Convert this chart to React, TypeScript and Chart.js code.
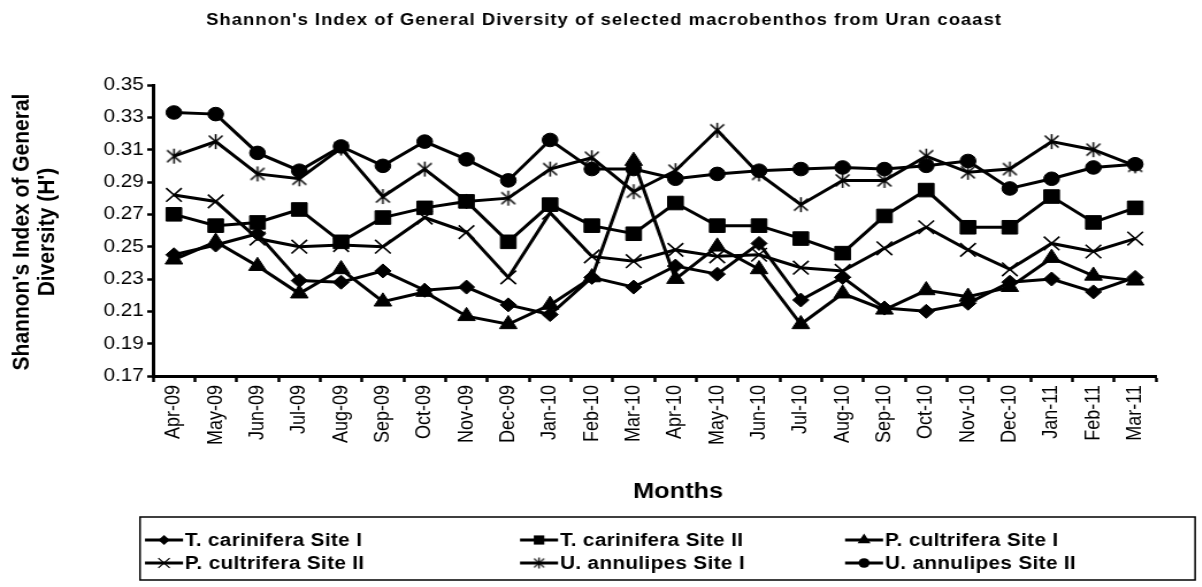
import React, { useEffect, useRef } from 'react';
import { Chart, registerables } from 'chart.js';

Chart.register(...registerables);

const categories = [
  'Apr-09', 'May-09', 'Jun-09', 'Jul-09', 'Aug-09', 'Sep-09', 'Oct-09', 'Nov-09',
  'Dec-09', 'Jan-10', 'Feb-10', 'Mar-10', 'Apr-10', 'May-10', 'Jun-10', 'Jul-10',
  'Aug-10', 'Sep-10', 'Oct-10', 'Nov-10', 'Dec-10', 'Jan-11', 'Feb-11', 'Mar-11',
];

const tCariniferaSite1 = [0.245, 0.251, 0.258, 0.229, 0.228, 0.235, 0.223, 0.225, 0.214, 0.208, 0.231, 0.225, 0.238, 0.233, 0.252, 0.217, 0.231, 0.212, 0.210, 0.215, 0.228, 0.230, 0.222, 0.231];
const tCariniferaSite2 = [0.270, 0.263, 0.265, 0.273, 0.253, 0.268, 0.274, 0.278, 0.253, 0.276, 0.263, 0.258, 0.277, 0.263, 0.263, 0.255, 0.246, 0.269, 0.285, 0.262, 0.262, 0.281, 0.265, 0.274];
const pCultriferaSite1 = [0.242, 0.253, 0.238, 0.221, 0.236, 0.216, 0.222, 0.207, 0.202, 0.214, 0.231, 0.303, 0.230, 0.250, 0.236, 0.202, 0.221, 0.211, 0.223, 0.219, 0.225, 0.243, 0.232, 0.229];
const pCultriferaSite2 = [0.282, 0.278, 0.255, 0.250, 0.251, 0.250, 0.268, 0.259, 0.231, 0.271, 0.244, 0.241, 0.248, 0.244, 0.245, 0.237, 0.235, 0.249, 0.262, 0.248, 0.236, 0.252, 0.247, 0.255];
const uAnnulipesSite1 = [0.306, 0.315, 0.295, 0.292, 0.311, 0.281, 0.298, 0.278, 0.280, 0.298, 0.305, 0.284, 0.297, 0.322, 0.295, 0.276, 0.291, 0.291, 0.306, 0.296, 0.298, 0.315, 0.310, 0.300];
const uAnnulipesSite2 = [0.333, 0.332, 0.308, 0.297, 0.312, 0.300, 0.315, 0.304, 0.291, 0.316, 0.298, 0.298, 0.292, 0.295, 0.297, 0.298, 0.299, 0.298, 0.300, 0.303, 0.286, 0.292, 0.299, 0.301];

const seriesNames = [
  'T. carinifera Site I',
  'T. carinifera Site II',
  'P. cultrifera Site I',
  'P. cultrifera Site II',
  'U. annulipes Site I',
  'U. annulipes Site II',
];

const Y_MIN = 0.17;
const Y_MAX = 0.35;
const Y_STEP = 0.02;

const TITLE = "Shannon's Index of General Diversity of selected macrobenthos from Uran coaast";
const Y_TITLE = ["Shannon's Index of General", "Diversity (H')"];
const X_TITLE = 'Months';

const FONT = "Arial, 'Liberation Sans', sans-serif";
const SX = 1.15; // horizontal stretch of the picture
const W = 1046;
const H = 587;
const AREA_LEFT = 153 / SX;
const AREA_RIGHT = 1156 / SX;
const AREA_TOP = 85;
const AREA_BOTTOM = 376;

function makeStar(size: number, lw: number) {
  const c = document.createElement('canvas');
  c.width = size;
  c.height = size;
  const g = c.getContext('2d')!;
  g.strokeStyle = '#000';
  g.lineWidth = lw;
  const m = size / 2;
  const r = size / 2 - 1;
  const d = r * 0.8;
  g.beginPath();
  g.moveTo(m, m - r);
  g.lineTo(m, m + r);
  g.moveTo(m - d, m - d);
  g.lineTo(m + d, m + d);
  g.moveTo(m + d, m - d);
  g.lineTo(m - d, m + d);
  g.stroke();
  return c;
}

function drawMarker(ctx: CanvasRenderingContext2D, style: any, x: number, y: number, r: number) {
  ctx.save();
  ctx.fillStyle = '#000';
  ctx.strokeStyle = '#000';
  ctx.lineWidth = 1.2;
  ctx.beginPath();
  if (style === 'rectRot') {
    ctx.moveTo(x, y - r); ctx.lineTo(x + r, y); ctx.lineTo(x, y + r); ctx.lineTo(x - r, y); ctx.closePath(); ctx.fill();
  } else if (style === 'rect') {
    const s = r * Math.SQRT1_2;
    ctx.rect(x - s, y - s, 2 * s, 2 * s); ctx.fill();
  } else if (style === 'triangle') {
    ctx.moveTo(x, y - r);
    ctx.lineTo(x + r * Math.sin(2 * Math.PI / 3), y - r * Math.cos(2 * Math.PI / 3));
    ctx.lineTo(x + r * Math.sin(4 * Math.PI / 3), y - r * Math.cos(4 * Math.PI / 3));
    ctx.closePath(); ctx.fill();
  } else if (style === 'crossRot') {
    const d = r * Math.SQRT1_2;
    ctx.moveTo(x - d, y - d); ctx.lineTo(x + d, y + d);
    ctx.moveTo(x + d, y - d); ctx.lineTo(x - d, y + d);
    ctx.stroke();
  } else if (style === 'circle') {
    ctx.arc(x, y, r, 0, Math.PI * 2); ctx.fill();
  } else if (style instanceof HTMLCanvasElement) {
    ctx.drawImage(style, x - r, y - r, 2 * r, 2 * r);
  }
  ctx.restore();
}

export default function App() {
  const ref = useRef<HTMLCanvasElement | null>(null);

  useEffect(() => {
    if (!ref.current) return;
    const star = makeStar(17, 1.5);
    const starSmall = makeStar(13, 1.3);

    const styles: any[] = ['rectRot', 'rect', 'triangle', 'crossRot', star, 'circle'];
    const radii = [7, 9.6, 8.8, 9.6, 8, 6.8];
    const borderW = [1, 1, 1, 1.6, 1, 1];
    const legendStyles: any[] = ['rectRot', 'rect', 'triangle', 'crossRot', starSmall, 'circle'];
    const legendRadii = [5, 6.5, 6.5, 7, 6.5, 4.8];
    const allData = [tCariniferaSite1, tCariniferaSite2, pCultriferaSite1, pCultriferaSite2, uAnnulipesSite1, uAnnulipesSite2];

    const datasets = allData.map((d, i) => ({
      label: seriesNames[i],
      data: d,
      borderColor: '#000',
      backgroundColor: '#000',
      borderWidth: 3,
      pointStyle: styles[i],
      pointRadius: radii[i],
      pointBorderWidth: borderW[i],
      pointBackgroundColor: '#000',
      pointBorderColor: '#000',
      tension: 0,
      fill: false,
    }));

    const decor = {
      id: 'decor',
      afterDraw(chart: any) {
        const ctx: CanvasRenderingContext2D = chart.ctx;
        ctx.save();
        ctx.fillStyle = '#000';
        ctx.textAlign = 'center';
        ctx.textBaseline = 'middle';
        // main title
        ctx.font = `bold 16px ${FONT}`;
        (ctx as any).letterSpacing = '0.9px';
        ctx.fillText(TITLE, 604 / SX, 21);
        (ctx as any).letterSpacing = '0px';
        // y title
        ctx.font = `bold 21px ${FONT}`;
        const yx = [22 / SX, 47 / SX];
        Y_TITLE.forEach((t, i) => {
          ctx.save();
          ctx.translate(yx[i], 232);
          ctx.rotate(-Math.PI / 2);
          ctx.fillText(t, 0, 0);
          ctx.restore();
        });
        // x title
        ctx.font = `bold 22px ${FONT}`;
        ctx.fillText(X_TITLE, 678 / SX, 492);

        // legend box
        ctx.strokeStyle = '#000';
        ctx.lineWidth = 1.5;
        const bl = 140 / SX, br = 1195 / SX, bt = 517, bb = 580;
        ctx.strokeRect(bl, bt, br - bl, bb - bt);
        const colText = [185 / SX, 560 / SX, 885 / SX];
        const rowY = [540, 563];
        const segLen = 38 / SX;
        ctx.font = `bold 18px ${FONT}`;
        ctx.textAlign = 'left';
        (ctx as any).letterSpacing = '0.3px';
        seriesNames.forEach((name, i) => {
          const col = i % 3;
          const row = Math.floor(i / 3);
          const tx = colText[col];
          const y = rowY[row];
          const x1 = tx - 2 / SX - segLen;
          const x2 = tx - 2 / SX;
          ctx.beginPath();
          ctx.lineWidth = 3;
          ctx.moveTo(x1, y);
          ctx.lineTo(x2, y);
          ctx.stroke();
          drawMarker(ctx, legendStyles[i], (x1 + x2) / 2, y, legendRadii[i]);
          ctx.fillStyle = '#000';
          ctx.fillText(name, tx, y + 1);
        });
        (ctx as any).letterSpacing = '0px';
        ctx.restore();
      },
    };

    const chart = new Chart(ref.current, {
      type: 'line',
      data: { labels: categories, datasets },
      options: {
        responsive: false,
        animation: false,
        devicePixelRatio: 1,
        layout: { padding: { left: 0, right: W - AREA_RIGHT, top: AREA_TOP, bottom: 0 } },
        plugins: {
          legend: { display: false },
          title: { display: false },
          tooltip: { enabled: false },
        },
        scales: {
          x: {
            type: 'category',
            offset: true,
            grid: {
              offset: true,
              drawOnChartArea: false,
              drawTicks: true,
              tickLength: 6,
              tickWidth: 2.5,
              tickColor: '#000',
            },
            border: { display: true, color: '#000', width: 3 },
            ticks: {
              color: '#000',
              font: { family: FONT, size: 18 },
              minRotation: 90,
              maxRotation: 90,
              padding: 3,
              autoSkip: false,
            },
            afterFit: (s: any) => { s.height = H - AREA_BOTTOM; },
          },
          y: {
            type: 'linear',
            min: Y_MIN,
            max: Y_MAX,
            grid: {
              drawOnChartArea: false,
              drawTicks: true,
              tickLength: 5,
              tickWidth: 2.5,
              tickColor: '#000',
            },
            border: { display: true, color: '#000', width: 3 },
            ticks: {
              stepSize: Y_STEP,
              color: '#000',
              font: { family: FONT, size: 18 },
              padding: 3,
              callback: (v: any) => Number(v).toFixed(2),
            },
            afterFit: (s: any) => { s.width = AREA_LEFT; },
          },
        },
      },
      plugins: [decor],
    } as any);

    return () => chart.destroy();
  }, []);

  return (
    <div style={{ position: 'fixed', left: 0, top: 0, width: 1202, height: 587, overflow: 'hidden', background: '#fff' }}>
      <canvas ref={ref} width={W} height={H} style={{ width: `${W * SX}px`, height: `${H}px`, display: 'block' }} />
    </div>
  );
}
